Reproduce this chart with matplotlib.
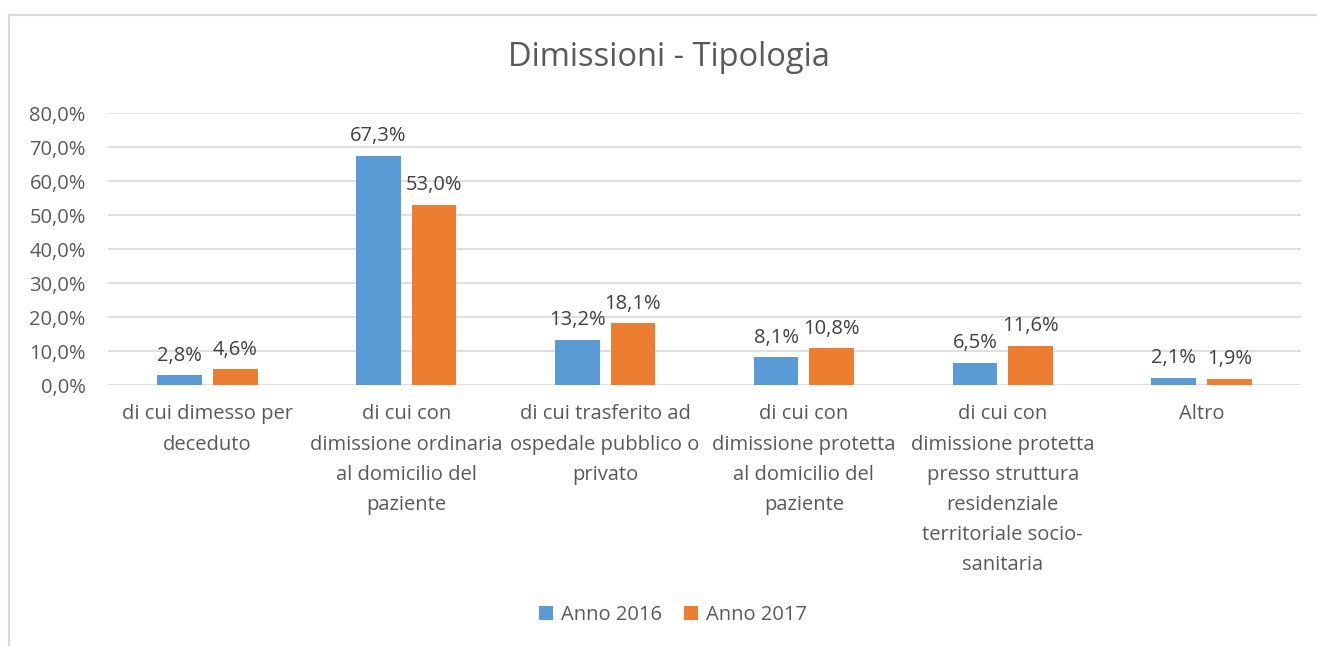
import matplotlib.pyplot as plt
from matplotlib.lines import Line2D
import numpy as np

plt.rcParams['font.family'] = ['Open Sans', 'DejaVu Sans']

# data
categories = [
    "di cui dimesso per\ndeceduto",
    "di cui con\ndimissione ordinaria\nal domicilio del\npaziente",
    "di cui trasferito ad\nospedale pubblico o\nprivato",
    "di cui con\ndimissione protetta\nal domicilio del\npaziente",
    "di cui con\ndimissione protetta\npresso struttura\nresidenziale\nterritoriale socio-\nsanitaria",
    "Altro",
]
anno_2016 = [2.8, 67.3, 13.2, 8.1, 6.5, 2.1]
anno_2017 = [4.6, 53.0, 18.1, 10.8, 11.6, 1.9]
series_names = ["Anno 2016", "Anno 2017"]

blue = '#5B9BD5'
orange = '#ED7D31'
grey_txt = '#595959'
grid_col = '#D9D9D9'

fig = plt.figure(figsize=(13.17, 6.46), dpi=100)
ax = fig.add_axes([108/1317, 1 - 385/646, (1301-108)/1317, (385-113)/646])

x = np.arange(len(categories))
w = 0.225
off = 0.14
b1 = ax.bar(x - off, anno_2016, w, color=blue, label=series_names[0], zorder=3)
b2 = ax.bar(x + off, anno_2017, w, color=orange, label=series_names[1], zorder=3)

def fmt(v):
    return f"{v:.1f}%".replace('.', ',')

for bars, vals in ((b1, anno_2016), (b2, anno_2017)):
    for r, v in zip(bars, vals):
        ax.annotate(fmt(v), (r.get_x() + r.get_width()/2, v),
                    xytext=(0, 7), textcoords='offset points',
                    ha='center', va='bottom', fontsize=14.5, color='#404040')

ax.set_xlim(-0.5, len(categories) - 0.5)
ax.set_ylim(0, 80)
yt = np.arange(0, 81, 10)
ax.set_yticks(yt)
ax.set_yticklabels([f"{t:.1f}%".replace('.', ',') for t in yt])
ax.set_xticks(x)
ax.set_xticklabels(categories, linespacing=1.68, va='top')
ax.tick_params(axis='both', length=0, colors=grey_txt, labelsize=14.5)
ax.tick_params(axis='x', pad=14)
ax.tick_params(axis='y', pad=16)
ax.grid(axis='y', color=grid_col, linewidth=1.2, zorder=0)
for s in ax.spines.values():
    s.set_visible(False)

fig.text(669/1317, 1 - 57/646, "Dimissioni - Tipologia", ha='center', va='center',
         fontsize=23.5, color=grey_txt)

fig.legend(handles=[b1, b2], loc='center', bbox_to_anchor=(673/1317, 1 - 615/646),
           ncol=2, frameon=False, fontsize=14.5, labelcolor=grey_txt,
           handlelength=0.7, handleheight=0.7, handletextpad=0.4, columnspacing=1.1)

# chart frame
fig.add_artist(Line2D([8.5/1317, 1.0], [1 - 14.5/646] * 2, color=grid_col, linewidth=1.5))
fig.add_artist(Line2D([8.5/1317] * 2, [0.0, 1 - 14.5/646], color=grid_col, linewidth=1.5))

fig.savefig('out.png', dpi=100)
